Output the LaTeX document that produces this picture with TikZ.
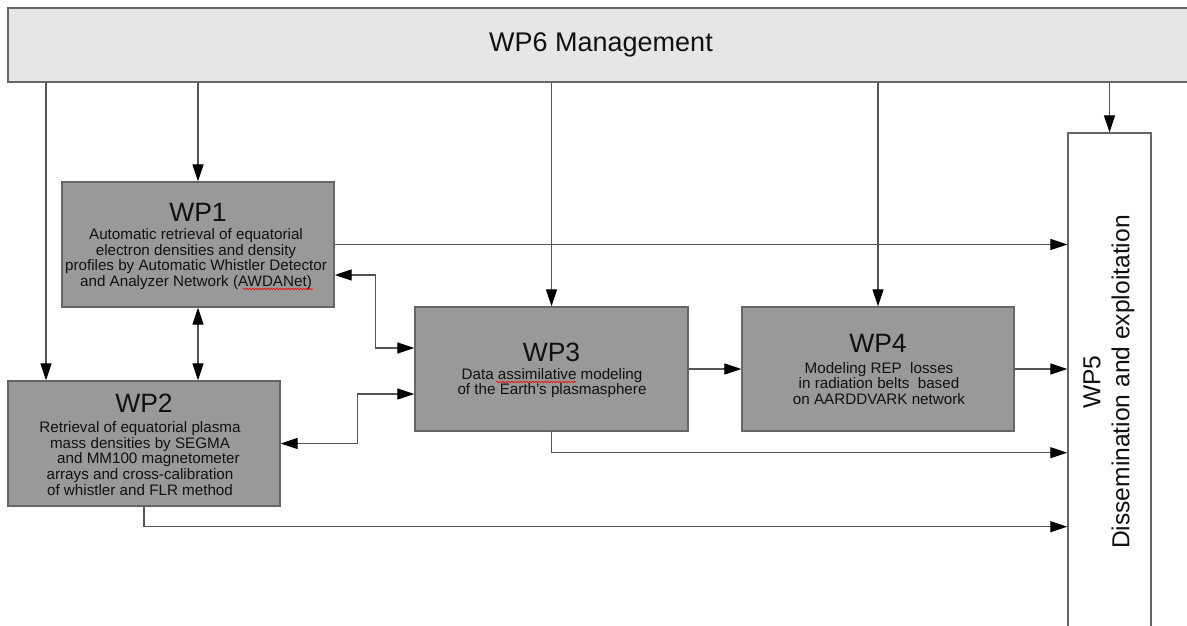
\documentclass[tikz,border=0pt]{standalone}
\usepackage{fontspec}
\setmainfont{Liberation Sans}
\usetikzlibrary{arrows.meta,decorations.pathmorphing}
\definecolor{boxfill}{HTML}{999999}
\definecolor{boxline}{HTML}{666666}
\definecolor{mgmtfill}{HTML}{E6E6E6}
\definecolor{connline}{HTML}{555555}
\definecolor{txt}{HTML}{111111}
\tikzset{
  wpbox/.style={draw=boxline, line width=1.4pt, fill=boxfill, inner sep=0pt},
  mgmtbox/.style={draw=boxline, line width=1.4pt, fill=mgmtfill, inner sep=0pt},
  wpfive/.style={draw=boxline, line width=1.4pt, fill=white, inner sep=0pt},
  wptitle/.style={text=txt, inner sep=0pt, font=\fontsize{26.5}{28}\selectfont},
  wpbody/.style={text=txt, inner sep=0pt, align=center, font=\fontsize{15.2}{15.7}\selectfont},
  conn/.style={draw=connline, line width=1.2pt, -{Triangle[length=17pt,width=11pt,color=black]}},
  biconn/.style={draw=connline, line width=1.2pt, {Triangle[length=17pt,width=11pt,color=black]}-{Triangle[length=17pt,width=11pt,color=black]}},
  spell/.style={draw=red, line width=0.6pt, decorate, decoration={snake, amplitude=0.8pt, segment length=3pt}}
}
\begin{document}
\begin{tikzpicture}[x=1pt,y=-1pt]
\useasboundingbox (0,0) rectangle (1187,626);
\clip (0,0) rectangle (1187,626);
\fill[white] (0,0) rectangle (1187,626);

% boxes
\node[mgmtbox, minimum width=1192pt, minimum height=74pt] (wp6) at (604,45) {};
\node[text=txt, inner sep=0pt, font=\fontsize{27}{29}\selectfont] (wp6t) at (601,45) {WP6 Management};

\node[wpbox, minimum width=272pt, minimum height=125pt] (wp1) at (198,244.5) {};
\node[wptitle] (wp1t) at (198,212) {WP1};
\node[wpbody] (wp1b) at (196,259) {Automatic retrieval of equatorial\\electron densities and density\\profiles by Automatic Whistler Detector\\and Analyzer Network (AWDANet)};

\node[wpbox, minimum width=272pt, minimum height=125pt] (wp2) at (144,443.5) {};
\node[wptitle] (wp2t) at (144,403) {WP2};
\node[wpbody] (wp2b) at (140,458.5) {Retrieval of equatorial plasma\\mass densities by SEGMA\\\ \ \ \ and MM100 magnetometer\\arrays and cross-calibration\\of whistler and FLR method};

\node[wpbox, minimum width=273pt, minimum height=124pt] (wp3) at (551.5,369) {};
\node[wptitle] (wp3t) at (551.5,352) {WP3};
\node[wpbody] (wp3b) at (552,383) {Data assimilative modeling\\of the Earth's plasmasphere};

\node[wpbox, minimum width=272pt, minimum height=124pt] (wp4) at (878,369) {};
\node[wptitle] (wp4t) at (878,343) {WP4};
\node[wpbody] (wp4b) at (879,383.5) {Modeling REP\ \ losses\\in radiation belts\ \ based\\on AARDDVARK network};

\node[wpfive, minimum width=83pt, minimum height=567pt] (wp5) at (1109.5,416.5) {};
\node[text=txt, inner sep=0pt, align=center, rotate=90, font=\fontsize{24.6}{29}\selectfont] (wp5t) at (1109,382) {WP5\\Dissemination and exploitation};

% spell-check marks
\draw[spell] (243,289) -- (313,289);
\draw[spell] (496,382) -- (576,382);

% connectors from WP6
\coordinate (wp2in) at ([xshift=-98pt]wp2.north);
\draw[conn] (wp6.south -| wp2in) -- (wp2in);
\draw[conn] (wp6.south -| wp1.north) -- (wp1.north);
\draw[conn] (wp6.south -| wp3.north) -- (wp3.north);
\draw[conn] (wp6.south -| wp4.north) -- (wp4.north);
\draw[conn] (wp6.south -| wp5.north) -- (wp5.north);

% between work packages
\draw[biconn] (wp1.south) -- (wp2.north -| wp1.south);
\draw[conn] (wp1.east) -- (wp1.east -| wp5.west);
\draw[biconn] ([yshift=-30.5pt]wp1.east) -- ++(41,0) |- ([yshift=21pt]wp3.west);
\draw[biconn] (wp2.east) -- ++(77,0) |- ([yshift=-25pt]wp3.west);
\draw[conn] (wp3.east) -- (wp4.west);
\draw[conn] (wp4.east) -- (wp4.east -| wp5.west);
\path (wp3.south) ++(0,21) coordinate (c3);
\draw[conn] (wp3.south) -- (c3) -- (c3 -| wp5.west);
\path (wp2.south) ++(0,20) coordinate (c2);
\draw[conn] (wp2.south) -- (c2) -- (c2 -| wp5.west);
\end{tikzpicture}
\end{document}
